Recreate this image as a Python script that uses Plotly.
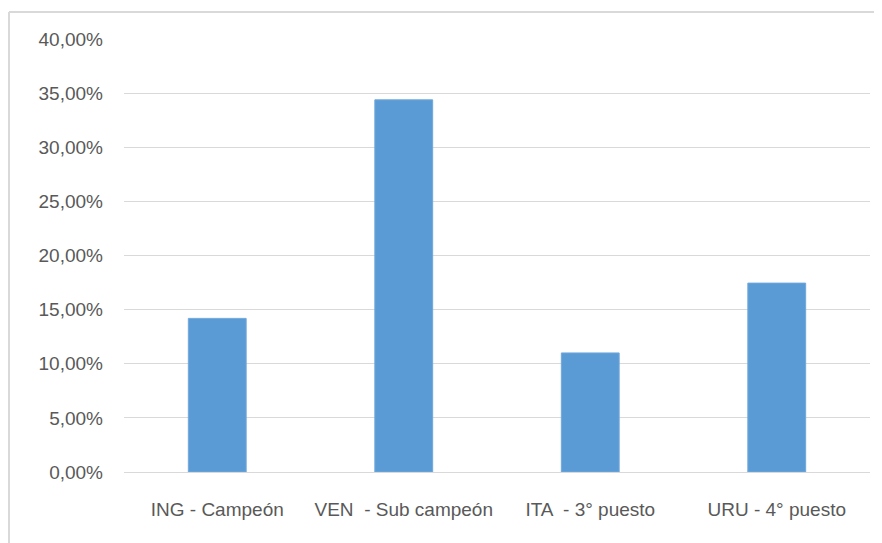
import plotly.graph_objects as go

categories = ["ING - Campeón", "VEN  - Sub campeón", "ITA  - 3° puesto", "URU - 4° puesto"]
values = [0.1419, 0.3438, 0.1100, 0.1745]
tick_vals = [0, 0.05, 0.10, 0.15, 0.20, 0.25, 0.30, 0.35, 0.40]

# page body has an 8px margin; figure occupies the rest of the 882x543 window
W, H = 874, 535
L, R, T, B = 116, 12, 31, 71
pw, ph = W - L - R, H - T - B

def px(x):
    return (x - L) / pw

def py(y):
    return (H - B - y) / ph

fig = go.Figure(go.Bar(
    x=categories, y=values,
    marker=dict(color="#5B9BD5", line=dict(color="#6FA8DC", width=1)),
    width=0.31,
))

fig.update_layout(
    width=W, height=H,
    margin=dict(l=L, r=R, t=T, b=B),
    paper_bgcolor="white", plot_bgcolor="white",
    separators=",.",
    font=dict(family="Liberation Sans", size=19, color="#595959"),
    showlegend=False,
    xaxis=dict(showgrid=False, showline=False, ticks="", ticklabelstandoff=24,
               tickfont=dict(size=19)),
    yaxis=dict(range=[0, 0.40], tickvals=tick_vals, tickformat=".2%",
               showgrid=True, gridcolor="#D9D9D9", gridwidth=1,
               zeroline=True, zerolinecolor="#D9D9D9", zerolinewidth=1,
               showline=False, ticks="", ticklabelstandoff=20,
               tickfont=dict(size=19)),
    shapes=[
        dict(type="line", xref="paper", yref="paper", x0=px(1), x1=px(W + 5), y0=py(4), y1=py(4),
             line=dict(color="#D9D9D9", width=2)),
        dict(type="line", xref="paper", yref="paper", x0=px(1), x1=px(1), y0=py(4), y1=py(H + 5),
             line=dict(color="#D9D9D9", width=2)),
    ],
)

fig.write_html("out.html")
